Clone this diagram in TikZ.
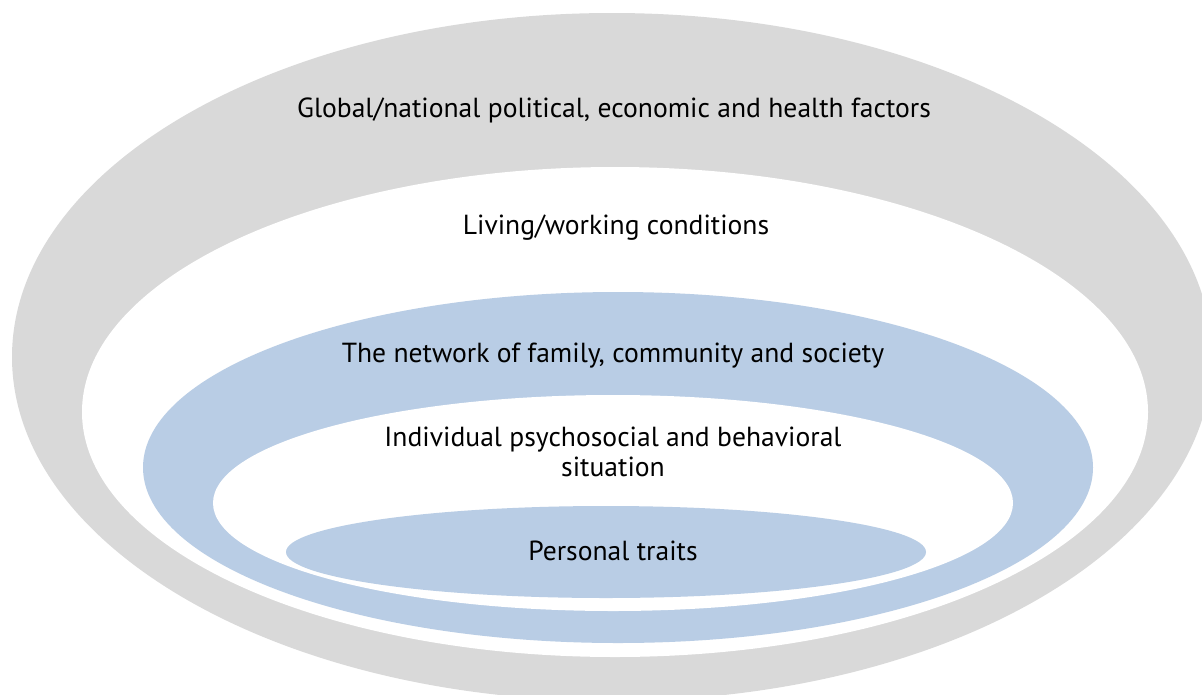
\documentclass[tikz,border=0pt]{standalone}
\usepackage{fontspec}
\setmainfont{PT Sans}
\usetikzlibrary{shapes.geometric}
\definecolor{ringgray}{HTML}{D9D9D9}
\definecolor{ringblue}{HTML}{B9CDE5}
\begin{document}
\begin{tikzpicture}[x=1pt,y=-1pt,
  ring/.style={ellipse, draw=none, inner sep=0pt, outer sep=0pt},
  label/.style={font=\fontsize{27.6}{30}\selectfont, text=black, align=center, inner sep=0pt}]
  \useasboundingbox (0,0) rectangle (1202,694);
  \clip (0,0) rectangle (1202,694);
  % nested rings, outermost first
  \node[ring, fill=ringgray,  minimum width=1200pt, minimum height=688pt] (global)   at (612,357)   {};
  \node[ring, fill=white,     minimum width=1066pt, minimum height=490pt] (living)   at (615,412)   {};
  \node[ring, fill=ringblue,  minimum width=950pt,  minimum height=351pt] (network)  at (618,467.5) {};
  \node[ring, fill=white,     minimum width=800pt,  minimum height=216pt] (indiv)    at (613,503)   {};
  \node[ring, fill=ringblue,  minimum width=640pt,  minimum height=92pt]  (personal) at (606,552)   {};
  % ring captions
  \node[label] (tglobal)   at (614,110) {Global/national political, economic and health factors};
  \node[label] (tliving)   at (616,228) {Living/working conditions};
  \node[label] (tnetwork)  at (613,356) {The network of family, community and society};
  \node[label] (tindiv)    at (613,452) {Individual psychosocial and behavioral\\situation};
  \node[label] (tpersonal) at (613,551) {Personal traits};
\end{tikzpicture}
\end{document}
